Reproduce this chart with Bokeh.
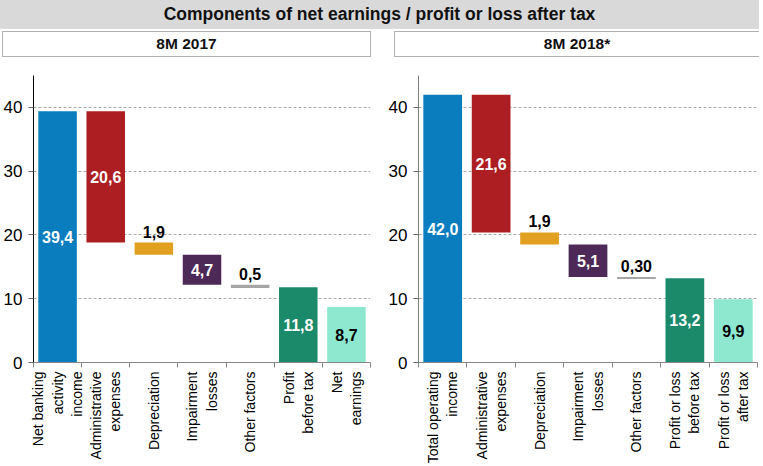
import math
from bokeh.plotting import figure
from bokeh.models import Div, FixedTicker, ColumnDataSource, Range1d
from bokeh.layouts import column, row
from bokeh.core.properties import value
from bokeh.embed import file_html
from bokeh.resources import INLINE

# ---------------- data ----------------
title_text = "Components of net earnings / profit or loss after tax"
panel_2017 = "8M 2017"
panel_2018 = "8M 2018*"

cats_2017 = ["Net banking\nactivity\nincome", "Administrative\nexpenses", "Depreciation",
             "Impairment\nlosses", "Other factors", "Profit\nbefore tax", "Net\nearnings"]
vals_2017 = [39.4, 20.6, 1.9, 4.7, 0.5, 11.8, 8.7]
labels_2017 = ["39,4", "20,6", "1,9", "4,7", "0,5", "11,8", "8,7"]

cats_2018 = ["Total operating\nincome", "Administrative\nexpenses", "Depreciation",
             "Impairment\nlosses", "Other factors", "Profit or loss\nbefore tax", "Profit or loss\nafter tax"]
vals_2018 = [42.0, 21.6, 1.9, 5.1, 0.30, 13.2, 9.9]
labels_2018 = ["42,0", "21,6", "1,9", "5,1", "0,30", "13,2", "9,9"]

kinds = ["start", "minus", "minus", "minus", "minus", "total", "total"]
y_ticks = [0, 10, 20, 30, 40]

# ---------------- styles ----------------
bar_colors = ["#0a7dbf", "#ad1e23", "#e2a020", "#4c2956", "#a6a6a6", "#1b8a6b", "#8de8cf"]
label_colors = ["white", "white", "black", "white", "black", "white", "black"]
label_place = ["in", "in", "above", "in", "above", "in", "in"]
FONT = "Liberation Sans"


def waterfall(vals):
    bottoms, tops = [], []
    run = 0.0
    for v, k in zip(vals, kinds):
        if k == "start":
            bottoms.append(0.0); tops.append(v); run = v
        elif k == "minus":
            tops.append(run); bottoms.append(run - v); run -= v
        else:
            bottoms.append(0.0); tops.append(v)
    return bottoms, tops


def make_fig(cats, vals, labels, width, border_left, border_right, yaxis_color):
    n = len(cats)
    xs = [i + 0.5 for i in range(n)]
    bottoms, tops = waterfall(vals)
    p = figure(width=width, height=409, x_range=Range1d(0, n), y_range=Range1d(0, 45),
               output_backend="svg", toolbar_location=None,
               min_border_left=border_left, min_border_right=border_right,
               min_border_top=18, min_border_bottom=104, margin=0)
    p.outline_line_color = None
    p.background_fill_color = "white"
    p.border_fill_color = "white"

    src = ColumnDataSource(dict(x=xs, bottom=bottoms, top=tops, color=bar_colors))
    p.vbar(x="x", bottom="bottom", top="top", width=0.8, fill_color="color", line_color=None, source=src)

    in_idx = [i for i in range(n) if label_place[i] == "in"]
    ab_idx = [i for i in range(n) if label_place[i] == "above"]
    src_in = ColumnDataSource(dict(x=[xs[i] for i in in_idx],
                                   y=[(bottoms[i] + tops[i]) / 2 for i in in_idx],
                                   t=[labels[i] for i in in_idx],
                                   c=[label_colors[i] for i in in_idx]))
    src_ab = ColumnDataSource(dict(x=[xs[i] for i in ab_idx],
                                   y=[tops[i] for i in ab_idx],
                                   t=[labels[i] for i in ab_idx],
                                   c=[label_colors[i] for i in ab_idx]))
    p.text(x="x", y="y", text="t", text_color="c", source=src_in, text_align="center",
           text_baseline="middle", text_font_size="16px", text_font_style="bold",
           text_font=value(FONT))
    p.text(x="x", y="y", text="t", text_color="c", source=src_ab, text_align="center",
           text_baseline="bottom", y_offset=-5, text_font_size="16px", text_font_style="bold",
           text_font=value(FONT))

    # x axis: labels at centres, ticks at category boundaries
    xa = p.xaxis[0]
    xa.ticker = FixedTicker(ticks=xs, minor_ticks=list(range(n + 1)))
    xa.major_label_overrides = {x: c for x, c in zip(xs, cats)}
    xa.major_tick_line_color = None
    xa.minor_tick_line_color = "#888888"
    xa.minor_tick_out = 5
    xa.minor_tick_in = 0
    xa.axis_line_color = "#888888"
    xa.major_label_orientation = math.pi / 2
    xa.major_label_text_font_size = "14px"
    xa.major_label_text_font = FONT
    xa.major_label_text_color = "black"
    xa.major_label_standoff = 3

    ya = p.yaxis[0]
    ya.ticker = FixedTicker(ticks=y_ticks)
    ya.minor_tick_line_color = None
    ya.major_tick_out = 5
    ya.major_tick_in = 0
    ya.major_tick_line_color = "#666666"
    ya.axis_line_color = yaxis_color
    ya.major_label_text_font_size = "17px"
    ya.major_label_text_font = FONT
    ya.major_label_text_color = "black"
    ya.major_label_standoff = 6

    p.xgrid.visible = False
    p.ygrid.ticker = FixedTicker(ticks=y_ticks)
    p.ygrid.grid_line_color = "#aaaaaa"
    p.ygrid.grid_line_dash = "3 2"
    p.ygrid.grid_line_width = 1
    return p


title_div = Div(text=(f'<div style="width:759px;height:29px;line-height:29px;background:#d9d9d9;'
                      f'text-align:center;font-family:{FONT};font-weight:bold;font-size:17.5px;color:#111;">'
                      f'{title_text}</div>'), width=759, height=31, margin=0)
box1 = Div(text=(f'<div style="box-sizing:border-box;width:369px;height:26px;line-height:24px;'
                 f'border:1px solid #b0b0b0;text-align:center;font-family:{FONT};font-weight:bold;'
                 f'font-size:15.5px;color:#111;margin-left:2px;">{panel_2017}</div>'),
           width=394, height=26, margin=0)
box2 = Div(text=(f'<div style="box-sizing:border-box;width:365px;height:26px;line-height:24px;'
                 f'border:1px solid #b0b0b0;border-right:none;text-align:center;font-family:{FONT};font-weight:bold;'
                 f'font-size:15.5px;color:#111;">{panel_2018}</div>'), width=365, height=26, margin=0)

p1 = make_fig(cats_2017, vals_2017, labels_2017, 385, 30, 15, "black")
p2 = make_fig(cats_2018, vals_2018, labels_2018, 374, 31, 2, "#808080")

layout = column(title_div, row(box1, box2, spacing=0), row(p1, p2, spacing=0), spacing=0)
open("out.html", "w").write(file_html(layout, INLINE))
